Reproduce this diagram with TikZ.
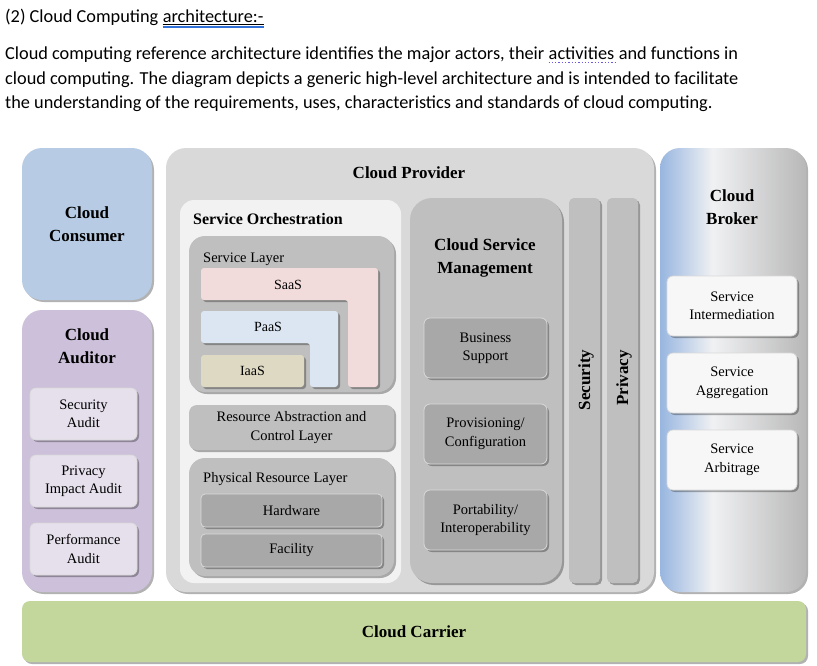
\documentclass[tikz,border=0pt]{standalone}
\usepackage{fontspec}
\setmainfont{Liberation Serif}
\newfontfamily\bodyfont{Carlito}
\usetikzlibrary{shadows}

\definecolor{consumerblue}{HTML}{B7CCE4}
\definecolor{auditorpurple}{HTML}{CCC0DA}
\definecolor{auditlight}{HTML}{E6E0EC}
\definecolor{providergray}{HTML}{D9D9D9}
\definecolor{orchwhite}{HTML}{F2F2F2}
\definecolor{layergray}{HTML}{BFBFBF}
\definecolor{darkgray}{HTML}{A8A8A8}
\definecolor{saaspink}{HTML}{F2DCDB}
\definecolor{paasblue}{HTML}{DCE6F2}
\definecolor{iaastan}{HTML}{DDD9C3}
\definecolor{carriergreen}{HTML}{C3D69B}
\definecolor{brokerblue}{HTML}{98B6E0}
\definecolor{brokerwhite}{HTML}{F0F1F3}
\definecolor{brokergray}{HTML}{B8B8B8}
\definecolor{linkblue}{HTML}{2F6FD8}
\definecolor{spellblue}{HTML}{6A5ADF}

\pgfdeclarehorizontalshading{brokershade}{100bp}{color(0bp)=(brokerblue); color(25bp)=(brokerblue); color(43bp)=(brokerwhite); color(75bp)=(brokergray); color(100bp)=(brokergray)}

\begin{document}
\begin{tikzpicture}[x=1pt,y=-1pt,
  every node/.style={inner sep=0pt},
  softshadow/.style={drop shadow={shadow xshift=2pt,shadow yshift=-2pt,opacity=0.3,fill=black}},
  bigbox/.style={rounded corners=20pt,softshadow},
  smallbox/.style={rounded corners=6pt,draw=white!85!black,line width=0.8pt,softshadow,boxtxt},
  bigtxt/.style={font=\fontsize{17}{23}\selectfont\bfseries,align=center},
  boxtxt/.style={font=\fontsize{14.5}{18.5}\selectfont,align=center},
  bodytxt/.style={font=\bodyfont\fontsize{18.3}{22}\selectfont,anchor=base west}]
\useasboundingbox (0,0) rectangle (817,665);

% text above the diagram
\node[bodytxt] (head) at (5,22) {(2) Cloud Computing};
\node[bodytxt] (headlink) at ([xshift=4pt]head.base east) {architecture:-};
\draw[line width=0.7pt] ([yshift=-2.5pt]headlink.base west) -- ([yshift=-2.5pt]headlink.base east);
\draw[linkblue,line width=1.1pt] ([yshift=-5pt]headlink.base west) -- ([yshift=-5pt]headlink.base east);
\node[bodytxt] (lineA) at (5,59) {Cloud computing reference architecture identifies the major actors, their};
\node[bodytxt] (lineAword) at ([xshift=4pt]lineA.base east) {activities};
\node[bodytxt] (lineAend) at ([xshift=4pt]lineAword.base east) {and functions in};
\draw[spellblue,line width=1.3pt,dotted] ([yshift=-3.5pt]lineAword.base west) -- ([yshift=-3.5pt]lineAword.base east);
\node[bodytxt] (lineB) at (5,84) {cloud computing. The diagram depicts a generic high-level architecture and is intended to facilitate};
\node[bodytxt] (lineC) at (5,108) {the understanding of the requirements, uses, characteristics and standards of cloud computing.};

% cloud consumer
\node[bigbox,fill=consumerblue,minimum width=130pt,minimum height=152pt,bigtxt] (consumer) at (87,224) {Cloud\\Consumer};

% cloud auditor
\node[bigbox,fill=auditorpurple,minimum width=130pt,minimum height=282pt] (auditor) at (87,451) {};
\node[bigtxt] (auditorT) at (87,346) {Cloud\\Auditor};
\node[smallbox,fill=auditlight,minimum width=107pt,minimum height=52pt] (secaudit) at (83.5,414) {Security\\Audit};
\node[smallbox,fill=auditlight,minimum width=107pt,minimum height=52pt] (privaudit) at (83.5,481) {Privacy\\Impact Audit};
\node[smallbox,fill=auditlight,minimum width=107pt,minimum height=52pt] (perfaudit) at (83.5,549) {Performance\\Audit};

% cloud provider
\node[bigbox,fill=providergray,minimum width=488pt,minimum height=444pt] (provider) at (410,370) {};
\node[bigtxt] (providerT) at (409,173) {Cloud Provider};

% service orchestration
\node[rounded corners=14pt,fill=orchwhite,minimum width=221pt,minimum height=383pt] (orch) at (290.5,391.5) {};
\node[font=\fontsize{16}{20}\selectfont\bfseries,anchor=west] (orchT) at (193,219) {Service Orchestration};

\node[rounded corners=16pt,fill=layergray,softshadow,minimum width=205pt,minimum height=156pt] (svclayer) at (291.5,314) {};
\node[boxtxt,anchor=west] (svclayerT) at (203,259) {Service Layer};
\fill[saaspink,rounded corners=3pt,softshadow] (201,268) -- (378,268) -- (378,387) -- (348,387) -- (348,300) -- (201,300) -- cycle;
\node[font=\fontsize{14}{18}\selectfont] (saas) at (288,285) {SaaS};
\fill[paasblue,rounded corners=3pt,softshadow] (201,311) -- (338,311) -- (338,387) -- (310,387) -- (310,343) -- (201,343) -- cycle;
\node[font=\fontsize{14}{18}\selectfont] (paas) at (268,327) {PaaS};
\node[rounded corners=3pt,fill=iaastan,softshadow,minimum width=103pt,minimum height=32pt,font=\fontsize{14}{18}\selectfont] (iaas) at (252.5,371) {IaaS};

\node[rounded corners=8pt,fill=layergray,softshadow,minimum width=205pt,minimum height=45pt,boxtxt] (abstraction) at (291.5,427.5) {Resource Abstraction and\\Control Layer};

\node[rounded corners=16pt,fill=layergray,softshadow,minimum width=205pt,minimum height=118pt] (physical) at (291.5,517) {};
\node[boxtxt,anchor=west] (physicalT) at (203,479) {Physical Resource Layer};
\node[smallbox,fill=darkgray,rounded corners=4pt,minimum width=181pt,minimum height=33pt] (hardware) at (291.5,510.5) {Hardware};
\node[smallbox,fill=darkgray,rounded corners=4pt,minimum width=181pt,minimum height=33pt] (facility) at (291.5,550.5) {Facility};

% cloud service management
\node[rounded corners=22pt,fill=layergray,softshadow,minimum width=152pt,minimum height=385pt] (csm) at (486,390.5) {};
\node[bigtxt] (csmT) at (485,258) {Cloud Service\\Management};
\node[smallbox,fill=darkgray,minimum width=123pt,minimum height=60pt] (business) at (485.5,348) {Business\\Support};
\node[smallbox,fill=darkgray,minimum width=123pt,minimum height=60pt] (provisioning) at (485.5,434) {Provisioning/\\Configuration};
\node[smallbox,fill=darkgray,minimum width=123pt,minimum height=60pt] (portability) at (485.5,520) {Portability/\\Interoperability};

% security and privacy
\node[rounded corners=5pt,fill=layergray,softshadow,minimum width=31pt,minimum height=385pt] (security) at (584.5,390.5) {};
\node[bigtxt,rotate=90] (securityT) at (586,380) {Security};
\node[rounded corners=5pt,fill=layergray,softshadow,minimum width=31pt,minimum height=385pt] (privacy) at (622.5,390.5) {};
\node[bigtxt,rotate=90] (privacyT) at (624,378) {Privacy};

% cloud broker
\node[bigbox,shading=brokershade,minimum width=146pt,minimum height=444pt] (broker) at (733,370) {};
\node[bigtxt] (brokerT) at (732,207) {Cloud\\Broker};
\node[smallbox,fill=white!97!black,minimum width=130pt,minimum height=60pt] (intermediation) at (732,306) {Service\\Intermediation};
\node[smallbox,fill=white!97!black,minimum width=130pt,minimum height=60pt] (aggregation) at (732,383) {Service\\Aggregation};
\node[smallbox,fill=white!97!black,minimum width=130pt,minimum height=60pt] (arbitrage) at (732,460) {Service\\Arbitrage};

% cloud carrier
\node[rounded corners=8pt,fill=carriergreen,softshadow,minimum width=784pt,minimum height=61pt,bigtxt] (carrier) at (414,631.5) {Cloud Carrier};
\end{tikzpicture}
\end{document}
